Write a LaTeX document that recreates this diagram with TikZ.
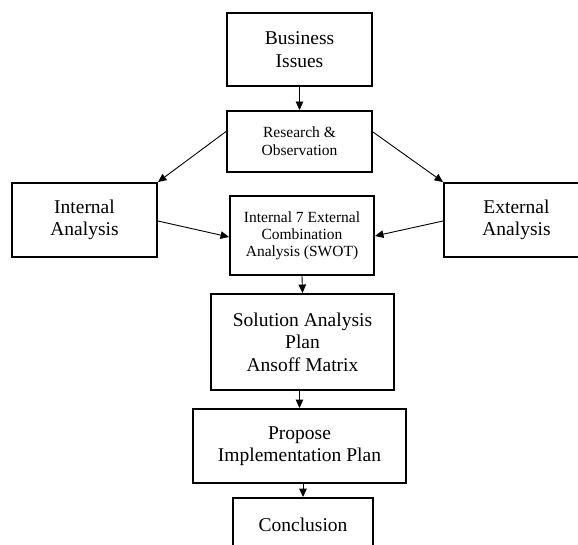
\documentclass[tikz,border=0pt]{standalone}
\usepackage{fontspec}
\setmainfont{Liberation Serif}
\usetikzlibrary{arrows.meta,calc}

\tikzset{
  stepbox/.style={draw=black, line width=1.9pt, fill=white, inner sep=0pt,
    align=center, text=black},
  bigtext/.style={font=\fontsize{19.5}{22.5}\selectfont},
  smalltext/.style={font=\fontsize{15.5}{17.7}\selectfont},
  flow/.style={draw=black, line width=0.9pt,
    -{Triangle[length=8.5pt,width=7.5pt]}}
}

\begin{document}
\begin{tikzpicture}[x=1pt,y=1pt]
  % page frame
  \useasboundingbox (0,0) rectangle (578,-545);
  \fill[white] (0,0) rectangle (578,-545);

  % boxes
  \node[stepbox, bigtext, minimum width=145pt, minimum height=73pt]
    (biz) at (299.5,-49.5) {Business\\Issues};
  \node[stepbox, smalltext, minimum width=145pt, minimum height=61pt]
    (res) at (299.5,-141.5) {Research \&\\Observation};
  \node[stepbox, bigtext, minimum width=145pt, minimum height=74pt]
    (int) at (84.5,-220) {Internal\\Analysis};
  \node[stepbox, bigtext, minimum width=145pt, minimum height=74pt]
    (ext) at (516.5,-220) {External\\Analysis};
  \node[stepbox, font=\fontsize{15.5}{17}\selectfont,
    minimum width=144pt, minimum height=79pt]
    (swot) at (302,-235.5) {Internal 7 External\\Combination\\Analysis (SWOT)};
  \node[stepbox, bigtext, minimum width=183pt, minimum height=96pt]
    (sol) at (302.5,-342) {Solution Analysis\\Plan\\Ansoff Matrix};
  \node[stepbox, bigtext, minimum width=213pt, minimum height=74pt]
    (prop) at (299.5,-446) {Propose\\Implementation Plan};
  \node[stepbox, bigtext, minimum width=140pt, minimum height=54pt]
    (conc) at (303,-525) {Conclusion};

  % connectors
  \draw[flow] (biz.south) -- (res.north);
  \draw[flow] ($(res.west)+(0,10)$) -- (int.north east);
  \draw[flow] ($(res.east)+(0,9.5)$) -- (ext.north west);
  \draw[flow] ($(int.east)+(0,-1)$) -- ($(swot.west)+(0,-1.5)$);
  \draw[flow] ($(ext.west)+(0,-1)$) -- ($(swot.east)+(0,-0.5)$);
  \draw[flow] (swot.south) -- (sol.north);
  \draw[flow] (prop.north |- sol.south) -- (prop.north);
  \draw[flow] (conc.north |- prop.south) -- (conc.north);
\end{tikzpicture}
\end{document}
